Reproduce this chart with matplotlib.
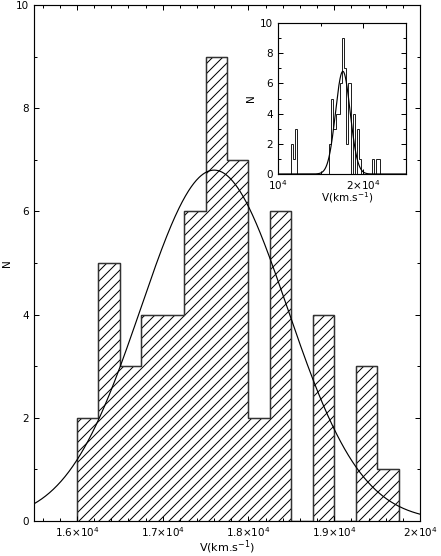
import numpy as np
import matplotlib
matplotlib.use("Agg")
import matplotlib.pyplot as plt
from matplotlib.ticker import MultipleLocator, FuncFormatter

# ---- data ----
bin_width = 250
main_start = 16000
main_counts = [2, 5, 3, 4, 4, 6, 9, 7, 2, 6, 0, 4, 0, 3, 1]
low_start = 11500
low_counts = [2, 1, 3]
high_start = 21000
high_counts = [1, 0, 1, 1]
fit_mean = 17600
fit_sigma = 855
fit_peak = 6.8

main_xlabel = r"V(km.s$^{-1}$)"
ylabel = "N"

# ---- derived ----
main_counts = np.array(main_counts, dtype=float)
main_edges = main_start + bin_width * np.arange(len(main_counts) + 1)

all_start = low_start
all_end = high_start + bin_width * len(high_counts)
all_edges = np.arange(all_start, all_end + 1, bin_width)
all_counts = np.zeros(len(all_edges) - 1)
def put(start, vals):
    i = int((start - all_start) // bin_width)
    all_counts[i:i + len(vals)] = vals
put(low_start, low_counts)
put(main_start, main_counts)
put(high_start, high_counts)

def gauss(x):
    return fit_peak * np.exp(-0.5 * ((x - fit_mean) / fit_sigma) ** 2)

def fmt(v, pos):
    m = v / 1e4
    if abs(m - 1) < 1e-9:
        return r"10$^{4}$"
    if abs(m - round(m)) < 1e-9:
        return r"%d×10$^{4}$" % round(m)
    return r"%g×10$^{4}$" % m

plt.rcParams['font.family'] = ['DejaVu Sans']
plt.rcParams['hatch.linewidth'] = 0.6
plt.rcParams['axes.linewidth'] = 0.7

W, H = 441, 556
dpi = 120
fig = plt.figure(figsize=(W / dpi, H / dpi), dpi=dpi)

def px_axes(l, r, t, b):
    return fig.add_axes([l / W, (H - b) / H, (r - l) / W, (b - t) / H])

fs = 6.2

# ---- main axes ----
ax = px_axes(34, 420, 5, 521)
ax.stairs(main_counts, main_edges, baseline=0, fill=True, facecolor='white',
          edgecolor='black', hatch='////', linewidth=0.7)
ax.stairs(main_counts, main_edges, baseline=0, fill=False,
          edgecolor='#333333', linewidth=0.8)
xc = np.linspace(15500, 20000, 600)
ax.plot(xc, gauss(xc), color='black', lw=0.7)
ax.set_xlim(15500, 20000)
ax.set_ylim(0, 10)
ax.xaxis.set_major_locator(MultipleLocator(1000))
ax.xaxis.set_minor_locator(MultipleLocator(200))
ax.yaxis.set_major_locator(MultipleLocator(2))
ax.yaxis.set_minor_locator(MultipleLocator(1))
ax.xaxis.set_major_formatter(FuncFormatter(fmt))
ax.tick_params(which='both', direction='in', top=True, right=True,
               labelsize=fs, width=0.6)
ax.tick_params(which='major', length=3.0, pad=3)
ax.tick_params(axis='x', which='major', pad=2.5)
ax.tick_params(which='minor', length=1.8)
ax.set_xlabel(main_xlabel, fontsize=fs + 0.5)
ax.xaxis.set_label_coords(0.5, -0.034)
ax.set_ylabel(ylabel, fontsize=fs)
ax.yaxis.set_label_coords(-0.058, 0.5)

# ---- inset ----
ai = px_axes(278, 406, 23, 174)
ai.stairs(all_counts, all_edges, baseline=0, fill=False,
          edgecolor='#222222', linewidth=0.6)
xi = np.linspace(10000, 25000, 800)
ai.plot(xi, gauss(xi), color='black', lw=0.7)
ai.set_xlim(10000, 25000)
ai.set_ylim(0, 10)
ai.xaxis.set_major_locator(MultipleLocator(10000))
ai.xaxis.set_minor_locator(MultipleLocator(5000))
ai.yaxis.set_major_locator(MultipleLocator(2))
ai.yaxis.set_minor_locator(MultipleLocator(1))
ai.xaxis.set_major_formatter(FuncFormatter(fmt))
ai.tick_params(which='both', direction='in', top=True, right=True,
               labelsize=fs, width=0.6)
ai.tick_params(which='major', length=3.0, pad=3.2)
ai.tick_params(axis='x', which='major', pad=2.6)
ai.tick_params(which='minor', length=1.8)
ai.set_xlabel(main_xlabel, fontsize=fs)
ai.xaxis.set_label_coords(0.537, -0.11)
ai.set_ylabel(ylabel, fontsize=fs)
ai.yaxis.set_label_coords(-0.17, 0.5)

fig.savefig("out.png", dpi=dpi)
